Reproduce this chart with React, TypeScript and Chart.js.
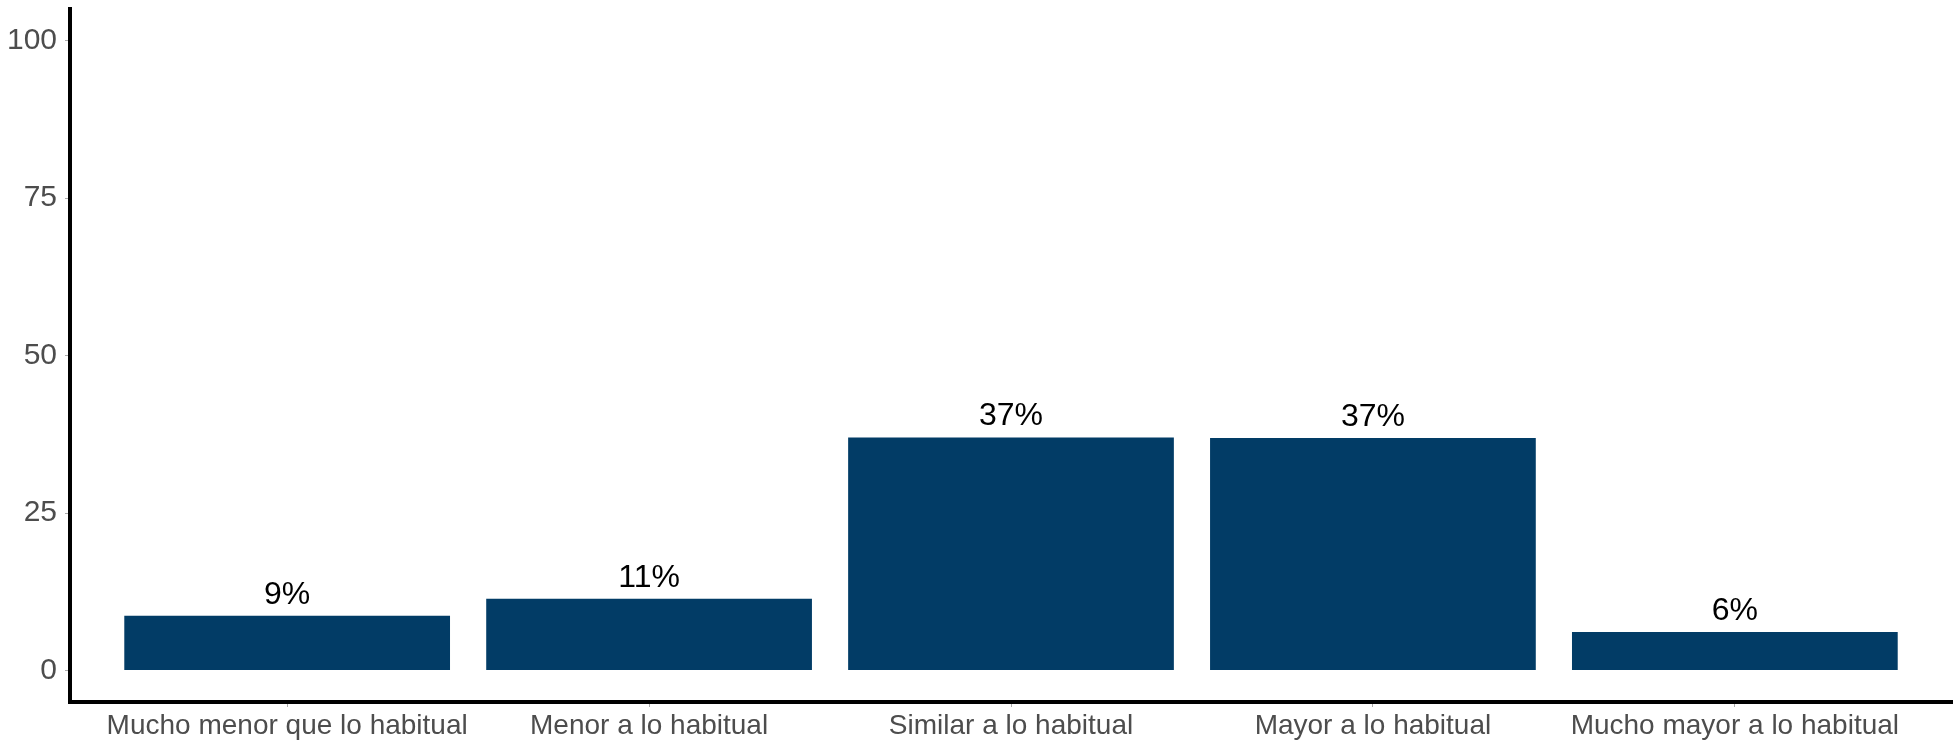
import React, { useEffect, useRef } from "react";
import { Chart, registerables } from "chart.js";

Chart.register(...registerables);

const categories: string[] = [
  "Mucho menor que lo habitual",
  "Menor a lo habitual",
  "Similar a lo habitual",
  "Mayor a lo habitual",
  "Mucho mayor a lo habitual",
];
const values: number[] = [8.7, 11.4, 37.0, 36.9, 6.1];
const valueLabels: string[] = ["9%", "11%", "37%", "37%", "6%"];
const yTicks: number[] = [0, 25, 50, 75, 100];

const FONT = "'Liberation Sans', Arial, sans-serif";

const labelPlugin = {
  id: "barLabels",
  afterDatasetsDraw(chart: any) {
    const ctx = chart.ctx;
    const meta = chart.getDatasetMeta(0);
    ctx.save();
    ctx.font = `32px ${FONT}`;
    ctx.fillStyle = "#000000";
    ctx.textAlign = "center";
    ctx.textBaseline = "alphabetic";
    meta.data.forEach((el: any, i: number) => {
      ctx.fillText(valueLabels[i], el.x, el.y - 12);
    });
    ctx.restore();
  },
};

export default function App() {
  const ref = useRef<HTMLCanvasElement | null>(null);
  useEffect(() => {
    document.body.style.margin = "0";
    if (!ref.current) return;
    const chart = new Chart(ref.current, {
      type: "bar",
      data: {
        datasets: [
          {
            data: values.map((v, i) => ({ x: i + 1, y: v })),
            backgroundColor: "#023c66",
            borderWidth: 0,
            barPercentage: 0.9,
            categoryPercentage: 1,
          },
        ],
      },
      options: {
        animation: false,
        responsive: false,
        maintainAspectRatio: false,
        layout: { padding: { top: 9, right: 5, left: 0, bottom: 0 } },
        plugins: { legend: { display: false }, tooltip: { enabled: false } },
        scales: {
          x: {
            type: "linear",
            min: 0.4,
            max: 5.6,
            offset: false,
            afterBuildTicks: (scale: any) => {
              scale.ticks = categories.map((_, i) => ({ value: i + 1 }));
            },
            afterFit: (scale: any) => {
              scale.height = 40;
              scale.paddingLeft = 0;
              scale.paddingRight = 0;
            },
            ticks: {
              autoSkip: false,
              maxRotation: 0,
              padding: 2,
              color: "#4d4d4d",
              font: { family: FONT, size: 28 },
              callback: (v: any) => categories[Math.round(Number(v)) - 1] ?? "",
            },
            grid: {
              display: true,
              offset: false,
              drawOnChartArea: false,
              drawTicks: true,
              tickLength: 5,
              color: "#aaaaaa",
              lineWidth: 1,
            },
            border: { display: true, color: "#000000", width: 4 },
          },
          y: {
            type: "linear",
            min: -5,
            max: 105,
            afterBuildTicks: (scale: any) => {
              scale.ticks = yTicks.map((v) => ({ value: v }));
            },
            afterFit: (scale: any) => {
              scale.width = 70;
              scale.paddingTop = 0;
              scale.paddingBottom = 0;
            },
            ticks: {
              padding: 8,
              color: "#4d4d4d",
              font: { family: FONT, size: 30 },
            },
            grid: {
              display: true,
              drawOnChartArea: false,
              drawTicks: true,
              tickLength: 5,
              color: "#aaaaaa",
              lineWidth: 1,
            },
            border: { display: true, color: "#000000", width: 4 },
          },
        },
      },
      plugins: [labelPlugin],
    } as any);
    return () => chart.destroy();
  }, []);
  return (
    <div style={{ position: "absolute", left: 0, top: 0, width: 1957, height: 742, background: "#ffffff" }}>
      <canvas ref={ref} width={1957} height={742} style={{ width: 1957, height: 742, display: "block" }} />
    </div>
  );
}
